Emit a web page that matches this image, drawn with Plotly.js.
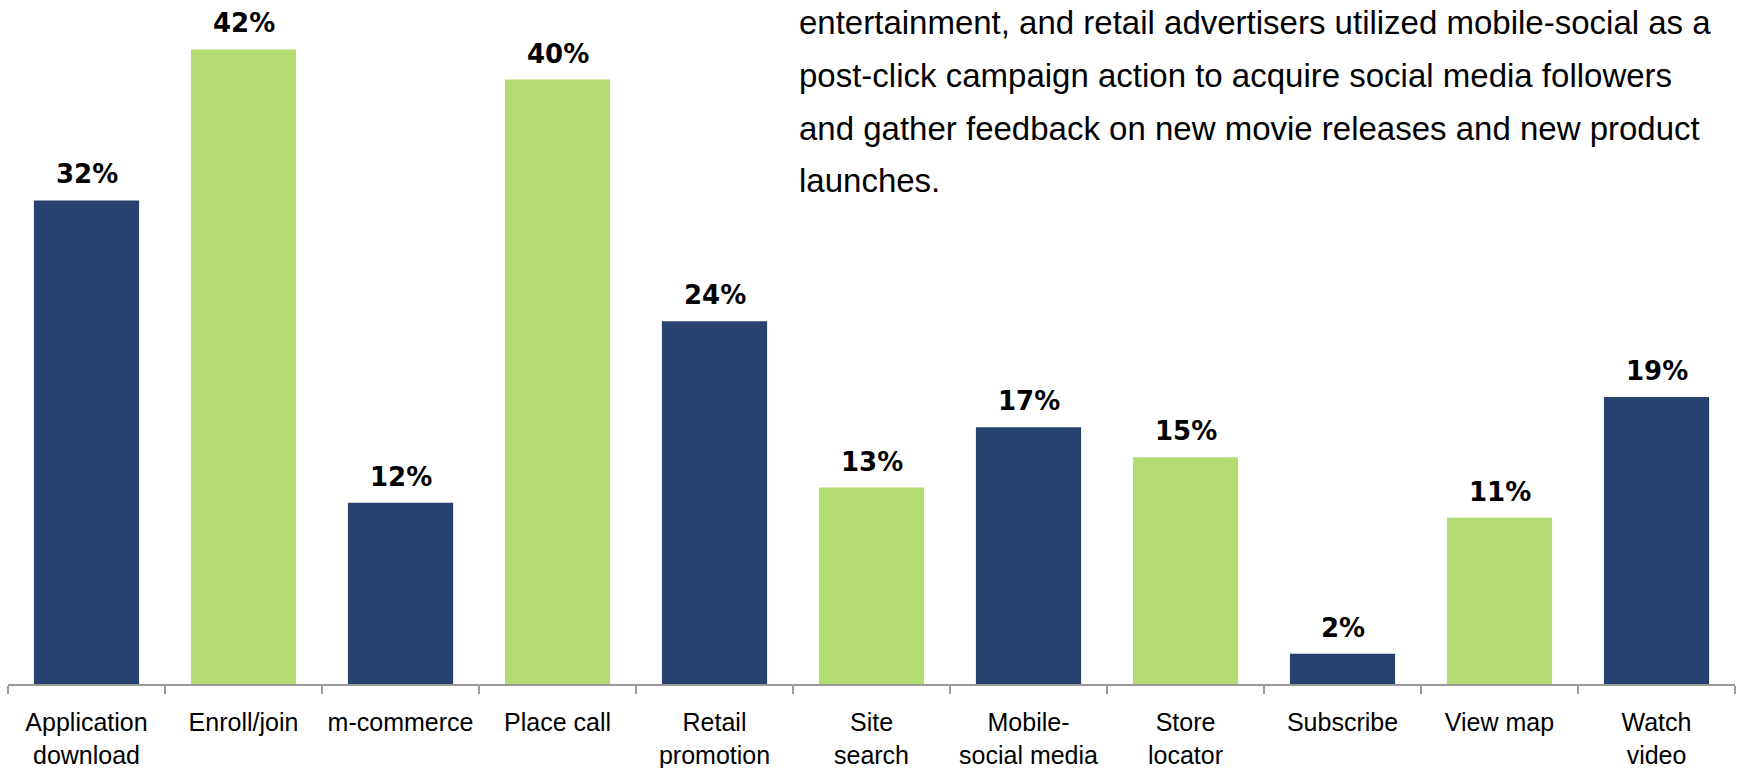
<!DOCTYPE html>
<html>
<head>
<meta charset="utf-8">
<script src="https://cdn.plot.ly/plotly-3.0.1.min.js"></script>
<style>
html, body { margin: 0; padding: 0; background: #ffffff; }
#chart { width: 1740px; height: 768px; }
</style>
</head>
<body>
<div id="chart"></div>
<script>
const categories = ["Application<br>download", "Enroll/join", "m-commerce", "Place call", "Retail<br>promotion", "Site<br>search", "Mobile-<br>social media", "Store<br>locator", "Subscribe", "View map", "Watch<br>video"];
const values = [32, 42, 12, 40, 24, 13, 17, 15, 2, 11, 19];
const valueLabels = ["32%", "42%", "12%", "40%", "24%", "13%", "17%", "15%", "2%", "11%", "19%"];
const barColors = ["#27426F", "#B4DB72", "#27426F", "#B4DB72", "#27426F", "#B4DB72", "#27426F", "#B4DB72", "#27426F", "#B4DB72", "#27426F"];
const noteLines = [
  "entertainment, and retail advertisers utilized mobile-social as a",
  "post-click campaign action to acquire social media followers",
  "and gather feedback on new movie releases and new product",
  "launches."
];

const trace = {
  type: "bar",
  x: categories,
  y: values,
  marker: { color: barColors, line: { width: 0 } },
  hoverinfo: "skip"
};

const annotations = [];
categories.forEach((c, i) => {
  annotations.push({
    x: c, y: values[i], xref: "x", yref: "y",
    text: valueLabels[i], showarrow: false,
    xanchor: "center", yanchor: "bottom", yshift: 9,
    font: { family: "DejaVu Sans", size: 26, color: "#000000", weight: "bold" }
  });
});

const plotTop = 0, plotH = 684;
const noteCenters = [22, 75, 128, 181];
noteLines.forEach((t, i) => {
  annotations.push({
    x: (797 - 8) / 1727, xref: "paper",
    y: 1 - (noteCenters[i] - plotTop) / plotH, yref: "paper",
    text: t, showarrow: false, xanchor: "left", yanchor: "middle",
    font: { family: "Liberation Sans, Arial, sans-serif", size: 33, color: "#000000" }
  });
});

const layout = {
  width: 1740, height: 768,
  margin: { l: 8, r: 5, t: 0, b: 84, pad: 0 },
  paper_bgcolor: "#ffffff", plot_bgcolor: "#ffffff",
  bargap: 0.33,
  showlegend: false,
  xaxis: {
    type: "category",
    range: [-0.5, 10.5],
    showline: true, linecolor: "#999999", linewidth: 2,
    ticks: "outside", tickson: "boundaries", ticklen: 8, tickwidth: 2, tickcolor: "#999999",
    tickfont: { family: "Liberation Sans, Arial, sans-serif", size: 25, color: "#000000" },
    ticklabelstandoff: 15,
    showgrid: false, zeroline: false, fixedrange: true
  },
  yaxis: {
    range: [0, 684 / 15.11],
    visible: false, showgrid: false, zeroline: false, fixedrange: true
  },
  annotations: annotations
};

Plotly.newPlot("chart", [trace], layout, { displayModeBar: false, staticPlot: true });
</script>
</body>
</html>
